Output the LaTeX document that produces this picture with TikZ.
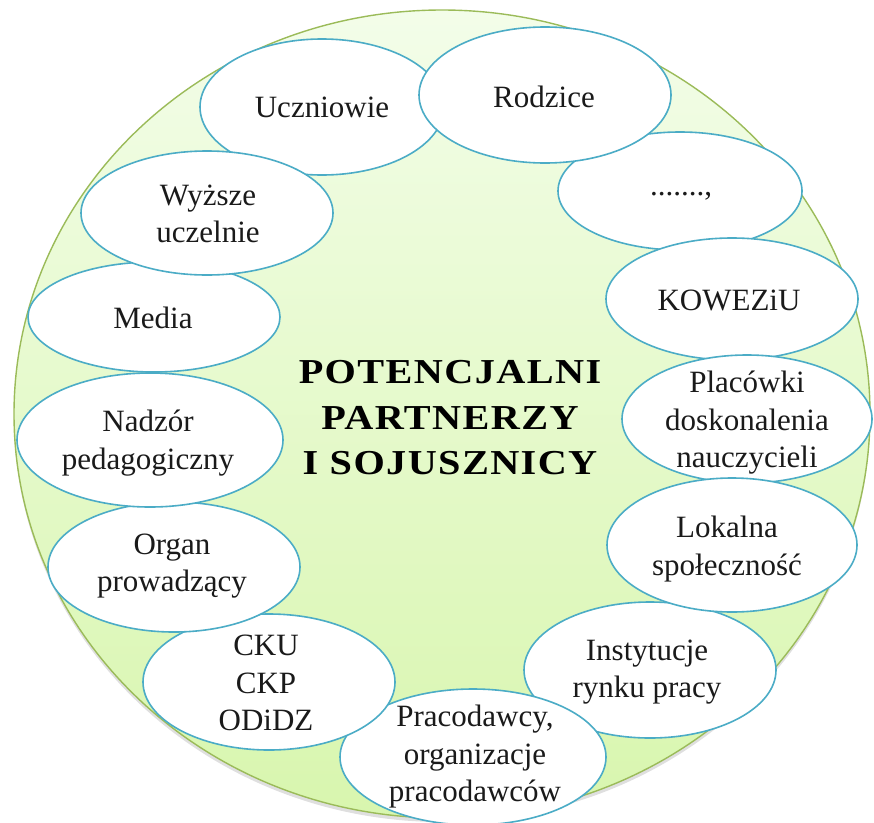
\documentclass[tikz,border=0pt]{standalone}
\usepackage{fontspec}
\setmainfont{Liberation Serif}
\newfontfamily\titlefont[FakeStretch=1.15,LetterSpace=4]{Liberation Serif}
\usetikzlibrary{shapes.geometric,shadows}
\definecolor{ringfillA}{HTML}{F3FDE9}
\definecolor{ringfillB}{HTML}{D8F6AE}
\definecolor{ringline}{HTML}{9BBB59}
\definecolor{blobline}{HTML}{4BACC6}
\definecolor{txt}{HTML}{1A1A1A}
\tikzset{
  blob/.style={ellipse, draw=blobline, line width=1.6pt, fill=white, inner sep=0pt},
  lbl/.style={align=center, text=txt, inner sep=0pt, font=\fontsize{31}{37.5}\selectfont},
  titlelbl/.style={align=center, text=black, inner sep=0pt,
    font=\titlefont\fontsize{35}{45.5}\selectfont\bfseries},
}
\begin{document}
\begin{tikzpicture}[x=1pt,y=-1pt]
\useasboundingbox (0,0) rectangle (874,822);
\node[ellipse, minimum width=856pt, minimum height=808pt, draw=ringline, line width=1.4pt,
  top color=ringfillA, bottom color=ringfillB,
  drop shadow={shadow xshift=0pt, shadow yshift=-4pt, opacity=0.25}] (ring) at (442,414) {};
% ellipses
\node[blob, minimum width=244pt, minimum height=136pt] (ucz) at (322,107) {};
\node[blob, minimum width=244pt, minimum height=118pt] (dots) at (680,191) {};
\node[blob, minimum width=252pt, minimum height=136pt] (rod) at (545,95) {};
\node[blob, minimum width=252pt, minimum height=122pt] (kow) at (732,299) {};
\node[blob, minimum width=250pt, minimum height=128pt] (pla) at (747,419) {};
\node[blob, minimum width=252pt, minimum height=136pt] (ins) at (650,670) {};
\node[blob, minimum width=250pt, minimum height=134pt] (lok) at (732,545) {};
\node[blob, minimum width=266pt, minimum height=136pt] (pra) at (473,757) {};
\node[blob, minimum width=252pt, minimum height=136pt] (cku) at (269,682) {};
\node[blob, minimum width=252pt, minimum height=130pt] (org) at (174,567) {};
\node[blob, minimum width=266pt, minimum height=134pt] (nad) at (150,440) {};
\node[blob, minimum width=252pt, minimum height=110pt] (med) at (154,317) {};
\node[blob, minimum width=252pt, minimum height=124pt] (wyz) at (207,213) {};
% labels
\node[lbl] (tucz) at (322,107) {Uczniowie};
\node[lbl] (trod) at (544,97) {Rodzice};
\node[lbl] (tdots) at (681,196) {.......,};
\node[lbl] (tkow) at (729,300) {KOWEZiU};
\node[lbl] (tpla) at (747,423) {Placówki\\doskonalenia\\nauczycieli};
\node[lbl] (tlok) at (727,549) {Lokalna\\społeczność};
\node[lbl] (tins) at (647,672) {Instytucje\\rynku pracy};
\node[lbl] (tpra) at (475,757) {Pracodawcy,\\organizacje\\pracodawców};
\node[lbl] (tcku) at (266,683) {CKU\\CKP\\ODiDZ};
\node[lbl] (torg) at (172,566) {Organ\\prowadzący};
\node[lbl] (tnad) at (148,443) {Nadzór\\pedagogiczny};
\node[lbl] (tmed) at (153,318) {Media};
\node[lbl] (twyz) at (208,214) {Wyższe\\uczelnie};
\node[titlelbl] (title) at (450,418) {POTENCJALNI\\PARTNERZY\\I SOJUSZNICY};
\end{tikzpicture}
\end{document}
